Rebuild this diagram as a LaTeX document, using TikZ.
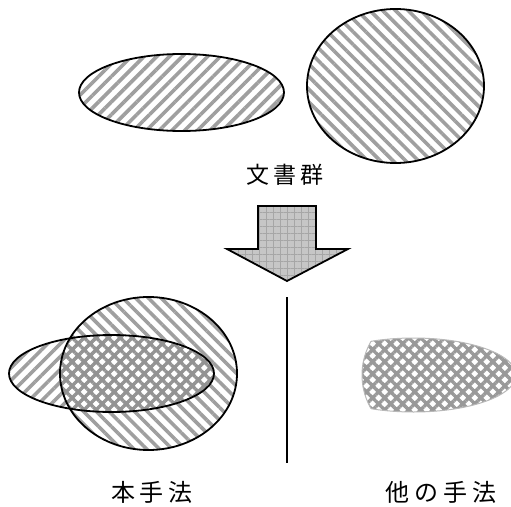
\documentclass[tikz,border=0pt]{standalone}
\usepackage{fontspec}
\newfontfamily\cjk{Noto Sans CJK JP}
\usetikzlibrary{patterns.meta}
\tikzset{
  outline/.style={draw=black, line width=1.8pt},
  fwdlines/.style={pattern={Lines[angle=45,distance=9pt,line width=3.6pt]}, pattern color=gray!75},
  bcklines/.style={pattern={Lines[angle=-45,distance=9pt,line width=3.6pt]}, pattern color=gray!75},
  xhatch/.style={pattern={Hatch[angle=45,distance=8.5pt,line width=3.4pt]}, pattern color=gray!85},
  label/.style={font=\cjk\fontsize{24}{26}\selectfont, inner sep=0pt},
}
\begin{document}
\begin{tikzpicture}[x=1pt,y=-1pt]
\useasboundingbox (0,0) rectangle (511,506);
% top sets
\fill[fwdlines] (181.5,92.5) ellipse [x radius=102.5, y radius=38.5];
\draw[outline] (181.5,92.5) ellipse [x radius=102.5, y radius=38.5];
\fill[bcklines] (395.5,86) ellipse [x radius=88.5, y radius=77];
\draw[outline] (395.5,86) ellipse [x radius=88.5, y radius=77];
\node[label, font=\cjk\fontsize{23}{25}\selectfont] (docs) at (285,175) {文\hspace{4.5pt}書\hspace{4.5pt}群};
% arrow
\path[fill=gray!45] (258,206) -- (316,206) -- (316,249) -- (348,249) -- (287,281) -- (227,249) -- (258,249) -- cycle;
\path[pattern={Hatch[angle=0,distance=7pt,line width=0.7pt]}, pattern color=gray!70] (258,206) -- (316,206) -- (316,249) -- (348,249) -- (287,281) -- (227,249) -- (258,249) -- cycle;
\draw[outline, line join=miter] (258,206) -- (316,206) -- (316,249) -- (348,249) -- (287,281) -- (227,249) -- (258,249) -- cycle;
% divider
\coordinate (dtop) at (287,297);
\coordinate (dbot) at (287,463);
\draw[line width=1.6pt] (dtop) -- (dbot);
% our method
\fill[fwdlines] (111.5,373.5) ellipse [x radius=102.5, y radius=38.5];
\fill[bcklines] (148.5,373.5) ellipse [x radius=88.5, y radius=76.5];
\begin{scope}
  \clip (148.5,373.5) ellipse [x radius=88.5, y radius=76.5];
  \fill[white] (111.5,373.5) ellipse [x radius=102.5, y radius=38.5];
  \fill[xhatch] (111.5,373.5) ellipse [x radius=102.5, y radius=38.5];
\end{scope}
\draw[outline] (111.5,373.5) ellipse [x radius=102.5, y radius=38.5];
\draw[outline] (148.5,373.5) ellipse [x radius=88.5, y radius=76.5];
\node[label] (ours) at (152,492) {本\hspace{5pt}手\hspace{5pt}法};
% other method
\begin{scope}
  \clip (450.5,375) ellipse [x radius=88.5, y radius=76.5];
  \fill[xhatch, pattern color=gray!80] (413.5,375) ellipse [x radius=102.5, y radius=37];
  \draw[gray!55, line width=1pt] (413.5,375) ellipse [x radius=102.5, y radius=37];
\end{scope}
\begin{scope}
  \clip (413.5,375) ellipse [x radius=102.5, y radius=37];
  \draw[gray!55, line width=1pt] (450.5,375) ellipse [x radius=88.5, y radius=76.5];
\end{scope}
\node[label] (others) at (441,492) {他\hspace{5pt}の\hspace{5pt}手\hspace{5pt}法};
\end{tikzpicture}
\end{document}
